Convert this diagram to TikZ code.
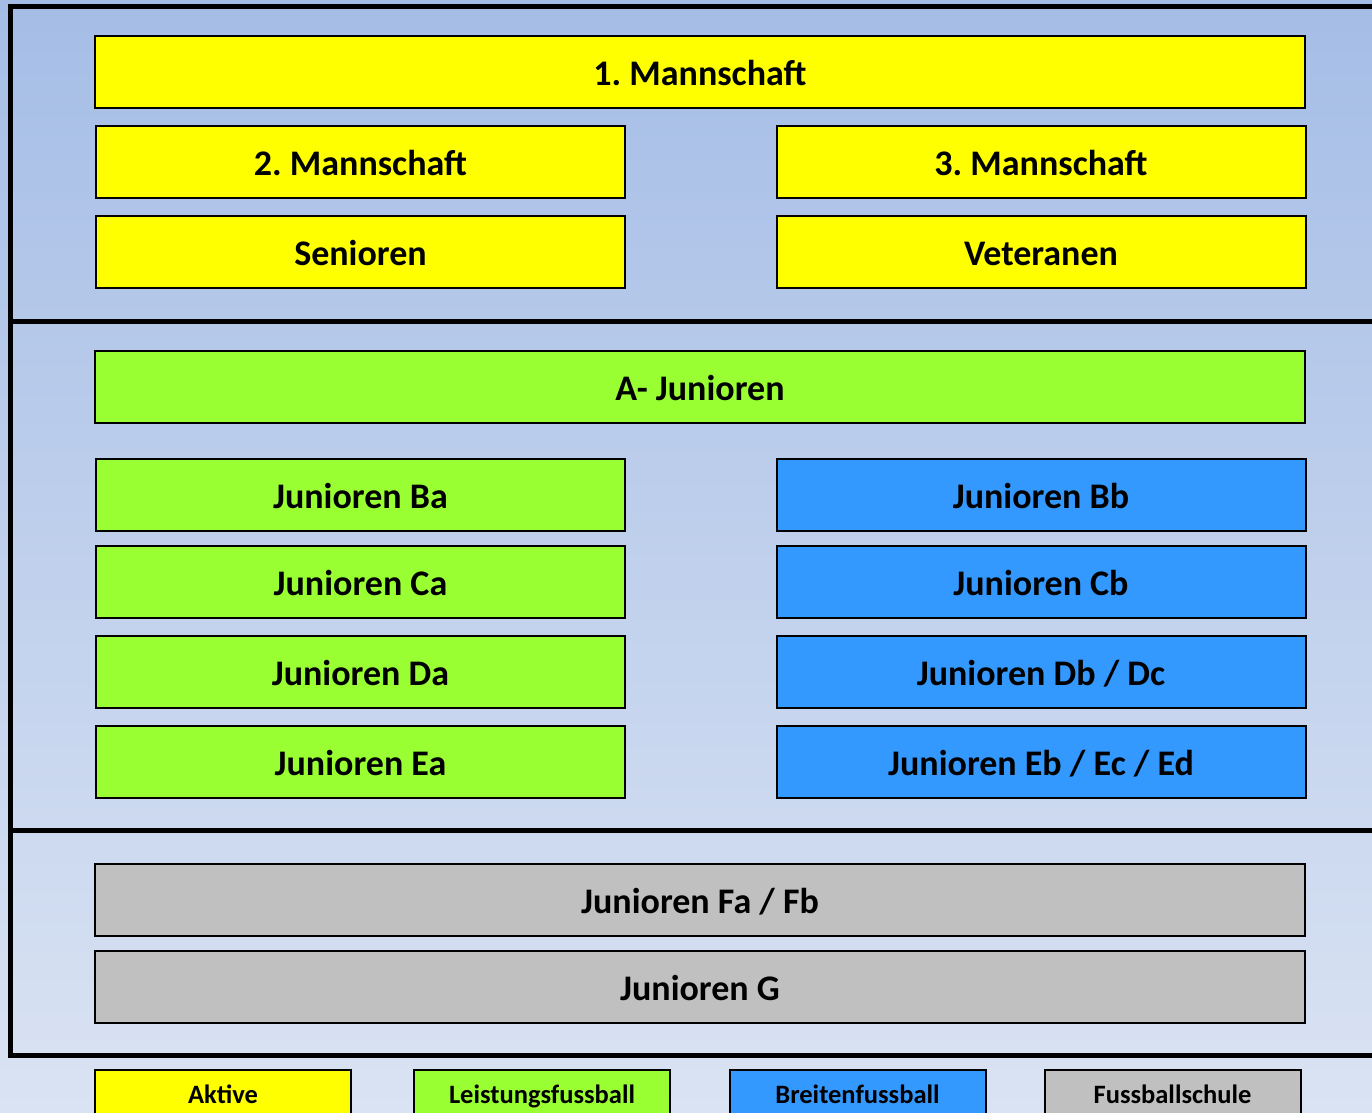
\documentclass[tikz,border=0pt]{standalone}
\usepackage{fontspec}
\setmainfont{Carlito}
\definecolor{bgtop}{RGB}{165,189,230}
\definecolor{bgbot}{RGB}{218,227,243}
\definecolor{cyel}{RGB}{255,255,0}
\definecolor{cgrn}{RGB}{153,255,51}
\definecolor{cblu}{RGB}{51,153,255}
\definecolor{cgry}{RGB}{192,192,192}
\tikzset{
  box/.style={draw=black, line width=2pt, rectangle, inner sep=0pt, minimum height=72pt,
    font=\fontsize{36}{42}\selectfont\bfseries, text=black},
  wide/.style={box, minimum width=1210pt},
  half/.style={box, minimum width=529pt},
  lbl/.style={font=\fontsize{36}{42}\selectfont\bfseries, text=black, anchor=base},
  leg/.style={draw=black, line width=2pt, rectangle, inner sep=0pt, minimum width=256pt, minimum height=60pt},
  legtext/.style={font=\fontsize{26.5}{31}\selectfont\bfseries, text=black, anchor=base},
  frame/.style={line width=5pt, black}
}
\begin{document}
\begin{tikzpicture}[x=1pt,y=-1pt]
\useasboundingbox (0,0) rectangle (1372,1112);
\shade[top color=bgtop, bottom color=bgbot] (0,0) rectangle (1372,1112);
\begin{scope}
\clip (0,0) rectangle (1372,1112);
% frame
\draw[frame] (1400,6) -- (10,6) -- (10,1055) -- (1400,1055);
\draw[frame] (10,321) -- (1400,321);
\draw[frame] (10,830) -- (1400,830);
% top section
\node[wide, fill=cyel] (m1) at (700,72) {};
\node[half, fill=cyel] (m2) at (360.5,162) {};
\node[half, fill=cyel] (m3) at (1041,162) {};
\node[half, fill=cyel] (sen) at (360.5,252) {};
\node[half, fill=cyel] (vet) at (1041,252) {};
% middle
\node[wide, fill=cgrn] (aj) at (700,387) {};
\node[half, fill=cgrn] (ba) at (360.5,495) {};
\node[half, fill=cblu] (bb) at (1041,495) {};
\node[half, fill=cgrn] (ca) at (360.5,582) {};
\node[half, fill=cblu] (cb) at (1041,582) {};
\node[half, fill=cgrn] (da) at (360.5,672) {};
\node[half, fill=cblu] (db) at (1041,672) {};
\node[half, fill=cgrn] (ea) at (360.5,762) {};
\node[half, fill=cblu] (eb) at (1041,762) {};
% bottom
\node[wide, fill=cgry] (fa) at (700,900) {};
\node[wide, fill=cgry] (g) at (700,987) {};
% labels (slightly below box centre, as in the reference)
\foreach \n/\t in {m1/{1. Mannschaft}, m2/{2. Mannschaft}, m3/{3. Mannschaft},
  sen/Senioren, vet/Veteranen, aj/{A- Junioren},
  ba/{Junioren Ba}, bb/{Junioren Bb}, ca/{Junioren Ca}, cb/{Junioren Cb},
  da/{Junioren Da}, db/{Junioren Db / Dc}, ea/{Junioren Ea}, eb/{Junioren Eb / Ec / Ed},
  fa/{Junioren Fa / Fb}, g/{Junioren G}}
  \node[lbl] (\n-t) at ([yshift=-13pt]\n.center) {\frenchspacing\t};
% legend
\node[leg, fill=cyel] (l1) at (223,1100) {};
\node[leg, fill=cgrn] (l2) at (542,1100) {};
\node[leg, fill=cblu] (l3) at (857.5,1100) {};
\node[leg, fill=cgry] (l4) at (1172.5,1100) {};
\node[legtext] (t1) at (223,1103) {Aktive};
\node[legtext] (t2) at (542,1103) {Leistungsfussball};
\node[legtext] (t3) at (857.5,1103) {Breitenfussball};
\node[legtext] (t4) at (1172.5,1103) {Fussballschule};
\end{scope}
\end{tikzpicture}
\end{document}
